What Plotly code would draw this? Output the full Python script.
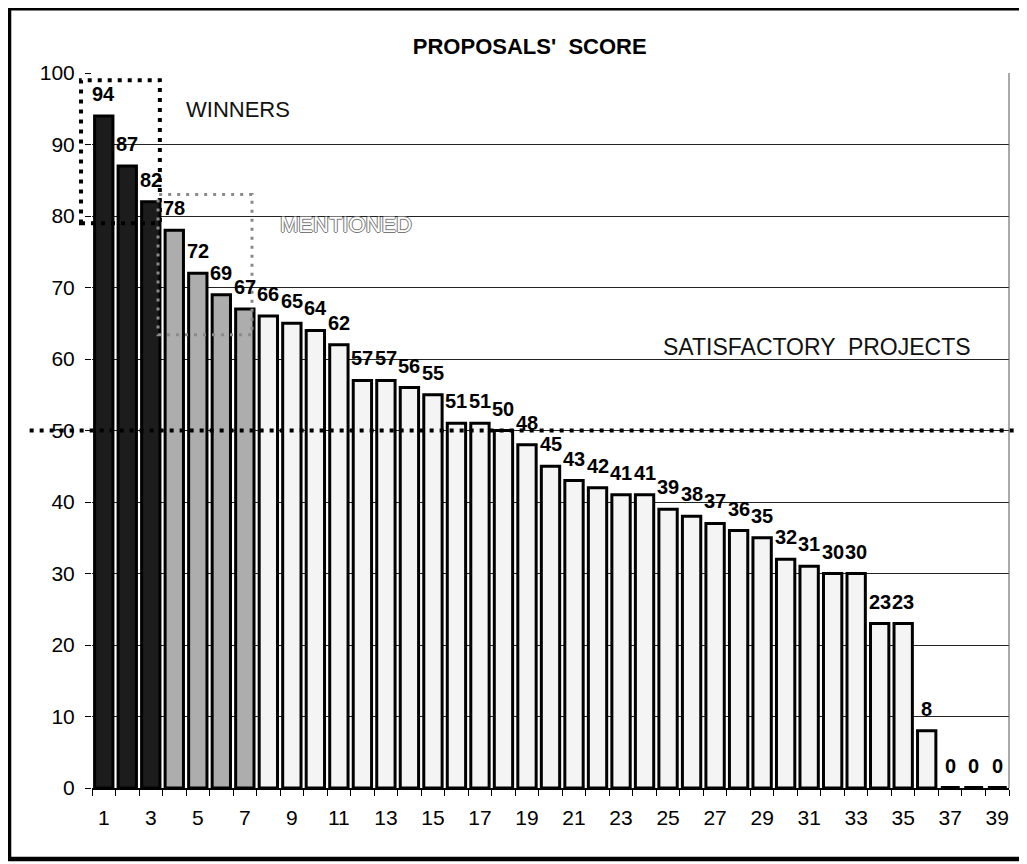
import plotly.graph_objects as go

# ---------------- data ----------------
proposals = [1, 2, 3, 4, 5, 6, 7, 8, 9, 10, 11, 12, 13, 14, 15, 16, 17, 18, 19, 20,
             21, 22, 23, 24, 25, 26, 27, 28, 29, 30, 31, 32, 33, 34, 35, 36, 37, 38, 39]
scores = [94, 87, 82, 78, 72, 69, 67, 66, 65, 64, 62, 57, 57, 56, 55, 51, 51, 50, 48, 45,
          43, 42, 41, 41, 39, 38, 37, 36, 35, 32, 31, 30, 30, 23, 23, 8, 0, 0, 0]
n_winners = 3
n_mentioned = 4
x_tick_vals = [1, 3, 5, 7, 9, 11, 13, 15, 17, 19, 21, 23, 25, 27, 29, 31, 33, 35, 37, 39]
x_tick_text = ["1", "3", "5", "7", "9", "11", "13", "15", "17", "19", "21", "23", "25",
               "27", "29", "31", "33", "35", "37", "39"]
y_tick_vals = [0, 10, 20, 30, 40, 50, 60, 70, 80, 90, 100]
threshold = 50

title_text = "PROPOSALS'  SCORE"
winners_text = "WINNERS"
mentioned_text = "MENTIONED"
satisfactory_text = "SATISFACTORY  PROJECTS"

# ---------------- styles ----------------
FONT = "Liberation Sans, Arial, sans-serif"
C_WIN = "#1c1c1c"
C_MEN = "#adadad"
C_SAT = "#f4f4f4"

colors = []
for i, p in enumerate(proposals):
    if i < n_winners:
        colors.append(C_WIN)
    elif i < n_winners + n_mentioned:
        colors.append(C_MEN)
    else:
        colors.append(C_SAT)

fig = go.Figure()
fig.add_trace(go.Bar(
    x=proposals, y=scores,
    marker=dict(color=colors, line=dict(color="black", width=3)),
    hoverinfo="x+y",
    showlegend=False,
))

# zero-value bars drawn as a flat outline at the baseline
for p, s in zip(proposals, scores):
    if s == 0:
        fig.add_shape(type="line", xref="x", yref="y",
                      x0=p - 0.4, x1=p + 0.4, y0=s, y1=s,
                      line=dict(color="black", width=4), layer="above")

# value labels
for p, s in zip(proposals, scores):
    fig.add_annotation(x=p, y=s, text=str(s), showarrow=False, yshift=22,
                       font=dict(family=FONT, size=20, color="black", weight="bold"))

# threshold dotted line (extends past the plot area)
fig.add_shape(type="line", xref="paper", yref="y",
              x0=-0.068, x1=1.016, y0=threshold, y1=threshold,
              line=dict(color="black", width=4, dash="4px,6px"), layer="above")

# winners box
fig.add_shape(type="rect", xref="paper", yref="paper",
              x0=-0.012, x1=0.074, y0=0.79, y1=0.99,
              line=dict(color="black", width=4, dash="4px,6px"), layer="above")
# mentioned box
fig.add_shape(type="rect", xref="paper", yref="paper",
              x0=0.072, x1=0.1745, y0=0.634, y1=0.83,
              line=dict(color="#8a8a8a", width=3, dash="3px,6px"), layer="above")

# plot right border
fig.add_shape(type="line", xref="paper", yref="paper", x0=1, x1=1, y0=0, y1=1,
              line=dict(color="#555", width=1))

# outer frame
fig.add_shape(type="rect", xref="paper", yref="paper",
              x0=-0.0905, x1=1.0142, y0=-0.0993, y1=1.0905,
              line=dict(color="black", width=4.5))

# text annotations
fig.add_annotation(x=6.7, y=94.9, xref="x", yref="y", text=winners_text, showarrow=False,
                   font=dict(family=FONT, size=22, color="#111"))
fig.add_annotation(x=11.3, y=78.8, xref="x", yref="y", text=mentioned_text, showarrow=False,
                   font=dict(family=FONT, size=22, color="white",
                             shadow="1px 0 #777, -1px 0 #777, 0 1px #777, 0 -1px #777"))
fig.add_annotation(x=31.35, y=61.7, xref="x", yref="y", text=satisfactory_text, showarrow=False,
                   font=dict(family=FONT, size=23, color="#111"))

fig.update_layout(
    width=1027, height=864,
    margin=dict(l=84, r=26, t=65, b=84),
    paper_bgcolor="white", plot_bgcolor="white",
    bargap=0.22,
    title=dict(text=title_text, x=0.508, xref="container", y=0.956, yref="container",
               xanchor="center", yanchor="middle",
               font=dict(family=FONT, size=22, color="black", weight="bold")),
    font=dict(family=FONT, color="black"),
)
fig.update_xaxes(
    range=[0.5, 39.5], tickmode="array", tickvals=x_tick_vals, ticktext=x_tick_text,
    ticks="", showgrid=False, zeroline=False,
    showline=True, linecolor="black", linewidth=2,
    tickfont=dict(family=FONT, size=21, color="black"), ticklabelstandoff=10,
    minor=dict(tick0=0.5, dtick=1, ticks="outside", ticklen=6, tickwidth=1,
               tickcolor="black", showgrid=False),
)
fig.update_yaxes(
    range=[0, 100], tickmode="array", tickvals=y_tick_vals,
    showgrid=True, gridcolor="#222", gridwidth=1, zeroline=False, showline=False,
    ticks="outside", ticklen=6, tickcolor="black", tickwidth=1,
    tickfont=dict(family=FONT, size=21, color="black"), ticklabelstandoff=6,
)

fig.write_html("out.html")
